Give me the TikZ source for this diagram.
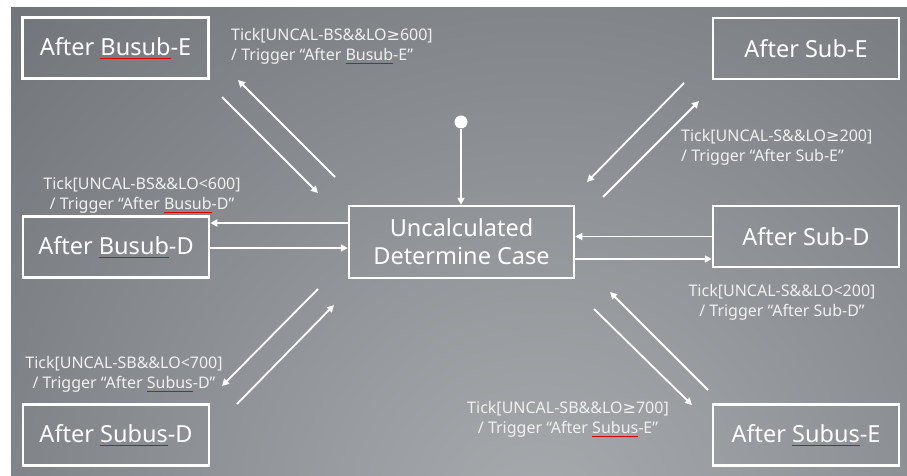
\documentclass[tikz,border=0pt]{standalone}
\usepackage{fontspec}
\setmainfont{Noto Sans}
\newfontfamily\symfont{DejaVu Sans}
\usetikzlibrary{arrows.meta,calc}
\newcommand\redwave[1]{\sbox0{#1}\rlap{\textcolor{red!90!black}{\rule[-3.6pt]{\wd0}{0.8pt}}}\usebox0}
\newcommand\gesym{{\symfont ≥}}
\definecolor{bgdark}{RGB}{86,91,97}
\definecolor{bglight}{RGB}{168,171,174}
\pgfdeclareradialshading{bgshade}{\pgfpoint{0bp}{0bp}}{color(0bp)=(bglight); color(25bp)=(bgdark); color(50bp)=(bgdark)}
\begin{document}
\begin{tikzpicture}[x=1pt,y=-1pt,
  box/.style={draw=white, line width=2.5pt, minimum width=186pt, minimum height=61pt, inner sep=0pt, text=white, font=\fontsize{23.5}{28}\selectfont, align=center},
  lbl/.style={text=white!94!black, font=\fontsize{16}{20}\selectfont, inner sep=0pt},
  arr/.style={draw=white, line width=1.8pt, -{Triangle[length=7pt,width=7pt]}}]
\useasboundingbox (0,0) rectangle (907,476);
\fill[white] (0,0) rectangle (907,476);
\begin{scope}
  \clip (11,8) rectangle (907,476);
  \fill[bgdark] (11,8) rectangle (907,476);
  \shade[shading=bgshade] (540,520) circle (1100pt);
\end{scope}

% boxes
\node[box] (be) at (115.5,48) {After \redwave{Busub}-E};
\node[box] (bd) at (116,247) {After \redwave{Busub}-D};
\node[box] (usd) at (116,435) {After \redwave{Subus}-D};
\node[box, minimum width=225pt, minimum height=72pt] (unc) at (461.5,242) {Uncalculated\\Determine Case};
\node[box] (se) at (806,48.5) {After Sub-E};
\node[box] (sdd) at (806,236.5) {After Sub-D};
\node[box] (use) at (806,435) {After \redwave{Subus}-E};

% initial
\node[circle, fill=white, minimum size=13pt, inner sep=0pt] (init) at (461,122) {};
\draw[arr] (init) -- (init |- unc.north);

% horizontal
\draw[arr] ([yshift=19pt]unc.west) -- ([yshift=19pt]unc.west -| bd.east);
\draw[arr] ([yshift=-1pt]bd.east) -- ([yshift=-1pt]bd.east -| unc.west);
\draw[arr] (sdd.west) -- (sdd.west -| unc.east);
\draw[arr] ([yshift=-17pt]unc.east) -- ([yshift=-17pt]unc.east -| sdd.west);

% diagonals
\coordinate (a1s) at (222,97);  \coordinate (a1e) at (318,193);
\coordinate (a2s) at (335,177); \coordinate (a2e) at (238,80);
\coordinate (b1s) at (684,83);  \coordinate (b1e) at (587,182);
\coordinate (b2s) at (603,197); \coordinate (b2e) at (699,101);
\coordinate (c1s) at (318,289); \coordinate (c1e) at (222,386);
\coordinate (c2s) at (237,404); \coordinate (c2e) at (334,305);
\coordinate (d1s) at (594,309); \coordinate (d1e) at (692,405);
\coordinate (d2s) at (708,390); \coordinate (d2e) at (610,292);
\foreach \p in {a1,a2,b1,b2,c1,c2,d1,d2} \draw[arr] (\p s) -- (\p e);

% labels
\node[lbl, anchor=west, align=left] (l1) at (231,46) {Tick[UNCAL-BS\&\&LO\gesym600]\\/ Trigger “After \redwave{Busub}-E”};
\node[lbl, align=center] (l2) at (142,195) {Tick[UNCAL-BS\&\&LO<600]\\/ Trigger “After \redwave{Busub}-D”};
\node[lbl, anchor=west, align=left] (l3) at (681,147) {Tick[UNCAL-S\&\&LO\gesym200]\\/ Trigger “After Sub-E”};
\node[lbl, align=center] (l4) at (782,302) {Tick[UNCAL-S\&\&LO<200]\\/ Trigger “After Sub-D”};
\node[lbl, align=center] (l5) at (124,374) {Tick[UNCAL-SB\&\&LO<700]\\/ Trigger “After \redwave{Subus}-D”};
\node[lbl, align=center] (l6) at (568,419) {Tick[UNCAL-SB\&\&LO\gesym700]\\/ Trigger “After \redwave{Subus}-E”};
\end{tikzpicture}
\end{document}
